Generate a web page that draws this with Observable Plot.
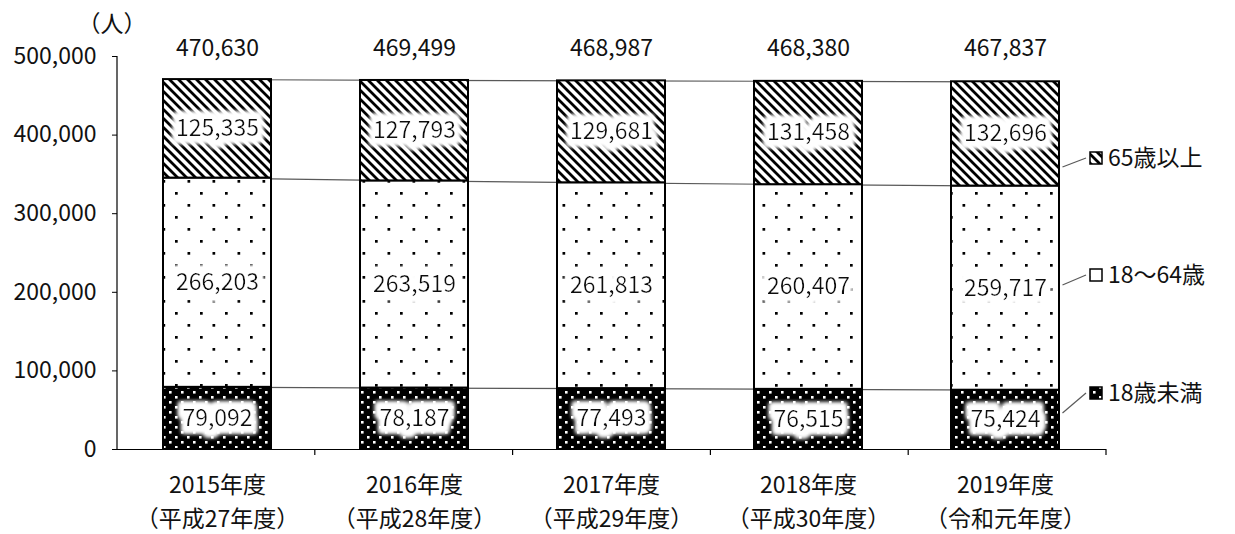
<!DOCTYPE html>
<html>
<head>
<meta charset="utf-8">
<script src="https://cdn.jsdelivr.net/npm/d3@7"></script>
<script src="https://cdn.jsdelivr.net/npm/@observablehq/plot@0.6"></script>
<style>
  html, body { margin: 0; padding: 0; background: #fff; }
  #chart { position: relative; width: 1235px; height: 534px; }
</style>
</head>
<body>
<svg width="0" height="0" style="position:absolute">
  <defs>
    <pattern id="p65" patternUnits="userSpaceOnUse" width="9" height="9">
      <rect width="9" height="9" fill="#fff"/>
      <path d="M-2,-2 L11,11 M-2,7 L2,11 M7,-2 L11,2" stroke="#000" stroke-width="2.8"/>
    </pattern>
    <pattern id="pMid" patternUnits="userSpaceOnUse" width="25" height="24">
      <rect width="25" height="24" fill="#fff"/>
      <rect x="0" y="0" width="2.7" height="2.7" fill="#000"/>
      <rect x="12.5" y="12" width="2.7" height="2.7" fill="#000"/>
    </pattern>
    <pattern id="pU18" patternUnits="userSpaceOnUse" width="12" height="10">
      <rect width="12" height="10" fill="#000"/>
      <rect x="1" y="1" width="2.6" height="2.6" fill="#fff"/>
      <rect x="7" y="6" width="2.6" height="2.6" fill="#fff"/>
    </pattern>
    <filter id="glow" x="-25%" y="-60%" width="150%" height="220%">
      <feMorphology in="SourceAlpha" operator="dilate" radius="5 7" result="d"/>
      <feGaussianBlur in="d" stdDeviation="2.2" result="b"/>
      <feFlood flood-color="#ffffff"/>
      <feComposite in2="b" operator="in" result="g"/>
      <feMerge><feMergeNode in="g"/><feMergeNode in="g"/><feMergeNode in="SourceGraphic"/></feMerge>
    </filter>
  </defs>
</svg>
<div id="chart"></div>
<script>
// ---- data ----
const years = ["2015年度", "2016年度", "2017年度", "2018年度", "2019年度"];
const eraLabels = ["（平成27年度）", "（平成28年度）", "（平成29年度）", "（平成30年度）", "（令和元年度）"];
const under18 = [79092, 78187, 77493, 76515, 75424];
const age18to64 = [266203, 263519, 261813, 260407, 259717];
const over65 = [125335, 127793, 129681, 131458, 132696];
const totals = [470630, 469499, 468987, 468380, 467837];
const yTicks = [0, 100000, 200000, 300000, 400000, 500000];
const seriesNames = ["65歳以上", "18〜64歳", "18歳未満"];
const unitLabel = "（人）";

// ---- layout ----
const W = 1235, H = 534;
const mL = 117, mR = 129, mT = 56, mB = 85;
const FONT = "'Noto Sans CJK JP', 'Noto Sans', sans-serif";
const FS = 23;
const TXT = "#111";

const fmt = d3.format(",");
const eraMap = new Map(years.map((y, i) => [y, eraLabels[i]]));

// stacked segments
const seriesDefs = [
  {key: "u18", values: under18, fill: "url(#pU18)"},
  {key: "mid", values: age18to64, fill: "url(#pMid)"},
  {key: "o65", values: over65, fill: "url(#p65)"}
];
const segs = {};
const base = years.map(() => 0);
for (const s of seriesDefs) {
  segs[s.key] = years.map((yr, i) => {
    const y1 = base[i], y2 = base[i] + s.values[i];
    base[i] = y2;
    return {year: yr, y1, y2, mid: (y1 + y2) / 2, value: s.values[i]};
  });
}
const allSegs = seriesDefs.flatMap(s => segs[s.key]);

// connector lines between adjacent bars at each segment top
const links = [];
for (const s of seriesDefs) {
  const arr = segs[s.key];
  for (let i = 0; i < arr.length - 1; i++) {
    links.push({x1: arr[i].year, x2: arr[i + 1].year, y1: arr[i].y2, y2: arr[i + 1].y2});
  }
}
const totalRows = years.map((yr, i) => ({year: yr, total: totals[i]}));

const plot = Plot.plot({
  width: W, height: H,
  marginLeft: mL, marginRight: mR, marginTop: mT, marginBottom: mB,
  x: {domain: years, paddingInner: 0.45, paddingOuter: 0.225},
  y: {domain: [0, 500000]},
  style: {fontFamily: FONT, fontSize: FS + "px", color: TXT, background: "white", overflow: "visible"},
  marks: [
    Plot.link(links, {x1: "x1", x2: "x2", y1: "y1", y2: "y2", stroke: "#595959", strokeWidth: 1.2}),
    ...seriesDefs.map(s => Plot.barY(segs[s.key], {x: "year", y1: "y1", y2: "y2", fill: s.fill, stroke: "#000", strokeWidth: 2})),
    Plot.text(allSegs, {x: "year", y: "mid", text: d => fmt(d.value), fill: TXT, fontSize: FS, ariaDescription: "seglabel"}),
    Plot.text(totalRows, {x: "year", text: d => fmt(d.total), frameAnchor: "top", dy: -17, fill: TXT, fontSize: FS}),
    Plot.ruleY([0], {stroke: "#000", strokeWidth: 1.2}),
    Plot.axisY({ticks: yTicks, tickFormat: fmt, tickSize: 5, tickPadding: 16, fontSize: FS, stroke: "#000", label: null}),
    Plot.axisX({tickSize: 0, tickPadding: 19, tickFormat: d => d + "\n" + eraMap.get(d), lineHeight: 1.5, fontSize: FS, label: null})
  ]
});
document.getElementById("chart").appendChild(plot);

// ---- post-render decorations ----
const svg = d3.select(plot.tagName.toLowerCase() === "svg" ? plot : plot.querySelector("svg"));
svg.selectAll('[aria-description="seglabel"] text').attr("filter", "url(#glow)");

const xs = d3.scaleBand().domain(years).range([mL, W - mR]).paddingInner(0.45).paddingOuter(0.225);
const ys = d3.scaleLinear().domain([0, 500000]).range([H - mB, mT]);

// y axis line
svg.append("line").attr("x1", mL).attr("x2", mL).attr("y1", ys(500000)).attr("y2", ys(0))
  .attr("stroke", "#000").attr("stroke-width", 1.2);
// x axis ticks at band boundaries
const step = xs.step();
for (let k = 1; k <= years.length; k++) {
  const x = mL + k * step;
  svg.append("line").attr("x1", x).attr("x2", x).attr("y1", ys(0)).attr("y2", ys(0) + 6)
    .attr("stroke", "#000").attr("stroke-width", 1.2);
}
// unit label
svg.append("text").attr("x", 112).attr("y", 24).attr("text-anchor", "middle").attr("dy", "0.35em")
  .attr("font-size", FS).attr("fill", TXT).text(unitLabel);

// legend with leader lines
const legendRows = [
  {name: seriesNames[0], fill: "url(#p65)", ly: 158, sy: 167},
  {name: seriesNames[1], fill: "url(#pMid)", ly: 275, sy: 285},
  {name: seriesNames[2], fill: "url(#pU18)", ly: 393, sy: 413}
];
const barRight = xs(years[years.length - 1]) + xs.bandwidth();
const lg = svg.append("g");
for (const r of legendRows) {
  lg.append("line").attr("x1", barRight + 1).attr("y1", r.sy).attr("x2", 1086).attr("y2", r.ly)
    .attr("stroke", "#595959").attr("stroke-width", 1.2);
  lg.append("rect").attr("x", 1090).attr("y", r.ly - 6).attr("width", 12).attr("height", 12)
    .attr("fill", r.fill).attr("stroke", "#000").attr("stroke-width", 1.5);
  lg.append("text").attr("x", 1108).attr("y", r.ly).attr("dy", "0.35em").attr("text-anchor", "start")
    .attr("font-size", FS).attr("fill", TXT).text(r.name);
}
</script>
</body>
</html>
